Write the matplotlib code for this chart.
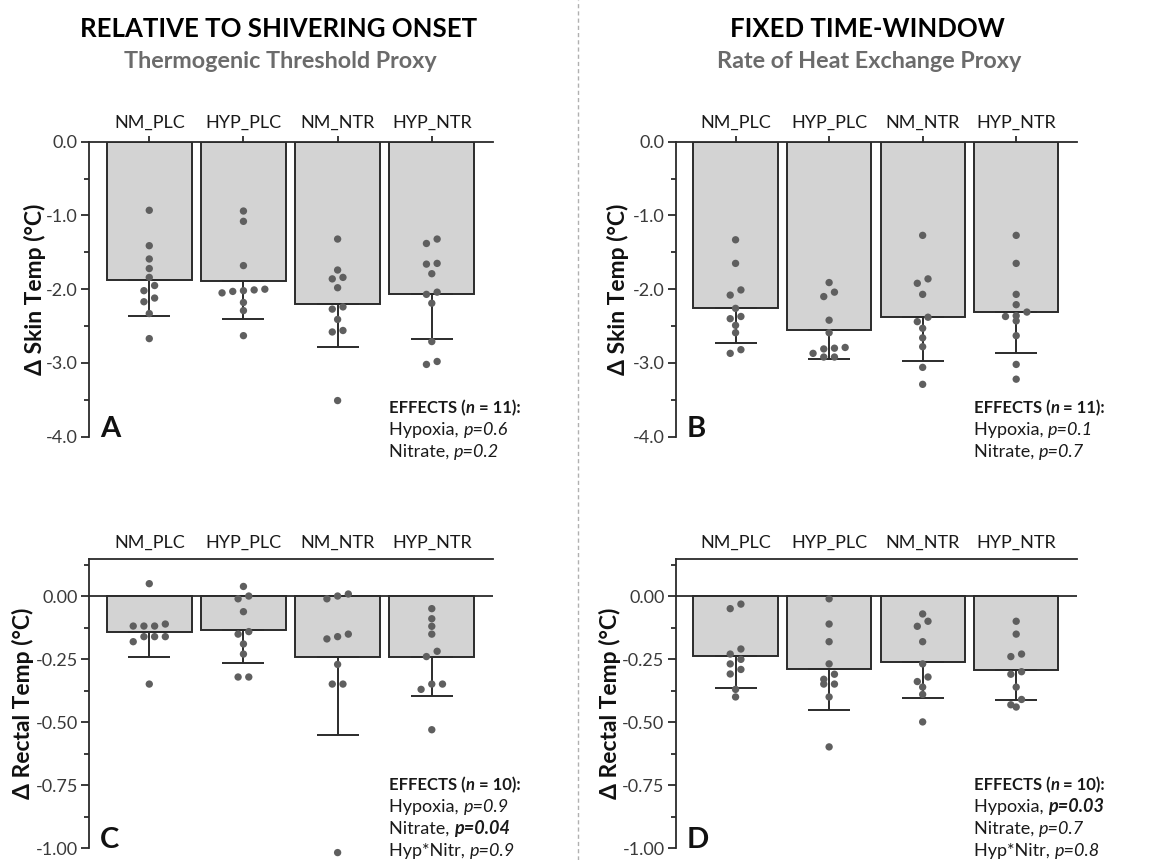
import numpy as np
import matplotlib.pyplot as plt
from matplotlib.ticker import FixedLocator, MultipleLocator, FuncFormatter
from matplotlib.transforms import offset_copy

plt.rcParams['font.family'] = ['Lato', 'DejaVu Sans']

groups = ["NM_PLC", "HYP_PLC", "NM_NTR", "HYP_NTR"]

# panel A: skin temp, relative to shivering onset
skin_onset_mean = [-1.876, -1.89, -2.20, -2.06]
skin_onset_sd = [0.488, 0.51, 0.59, 0.62]
skin_onset_pts = [
    [-0.93, -1.41, -1.59, -1.72, -1.84, -1.95, -2.02, -2.12, -2.17, -2.33, -2.67],
    [-0.94, -1.08, -1.68, -2.01, -2.05, -2.00, -2.03, -2.02, -2.18, -2.29, -2.63],
    [-1.32, -1.74, -1.84, -1.86, -1.98, -2.27, -2.24, -2.41, -2.56, -2.58, -3.51],
    [-1.32, -1.38, -1.65, -1.66, -1.79, -2.07, -2.04, -2.19, -2.71, -3.02, -2.98],
]

# panel B: skin temp, fixed time-window
skin_fixed_mean = [-2.255, -2.55, -2.38, -2.31]
skin_fixed_sd = [0.475, 0.39, 0.59, 0.56]
skin_fixed_pts = [
    [-1.33, -1.65, -2.01, -2.08, -2.26, -2.40, -2.37, -2.49, -2.59, -2.87, -2.82],
    [-1.91, -2.04, -2.10, -2.42, -2.59, -2.81, -2.79, -2.80, -2.87, -2.92, -2.92],
    [-1.27, -1.86, -1.92, -2.07, -2.38, -2.44, -2.53, -2.66, -2.78, -3.06, -3.29],
    [-1.27, -1.65, -2.07, -2.21, -2.31, -2.37, -2.36, -2.43, -2.63, -3.02, -3.22],
]

# panel C: rectal temp, relative to shivering onset
rect_onset_mean = [-0.141, -0.136, -0.243, -0.243]
rect_onset_sd = [0.099, 0.131, 0.307, 0.155]
rect_onset_pts = [
    [0.049, -0.119, -0.119, -0.119, -0.111, -0.161, -0.161, -0.161, -0.181, -0.349],
    [0.038, 0.0, -0.011, -0.062, -0.151, -0.141, -0.190, -0.230, -0.321, -0.321],
    [0.008, -0.011, 0.0, -0.170, -0.151, -0.161, -0.271, -0.349, -0.349, -1.017],
    [-0.050, -0.090, -0.120, -0.151, -0.219, -0.240, -0.349, -0.349, -0.370, -0.530],
]

# panel D: rectal temp, fixed time-window
rect_fixed_mean = [-0.239, -0.289, -0.262, -0.295]
rect_fixed_sd = [0.124, 0.164, 0.144, 0.118]
rect_fixed_pts = [
    [-0.050, -0.032, -0.210, -0.230, -0.251, -0.269, -0.291, -0.309, -0.370, -0.400],
    [-0.011, -0.111, -0.181, -0.269, -0.310, -0.330, -0.349, -0.349, -0.400, -0.598],
    [-0.071, -0.100, -0.120, -0.181, -0.269, -0.321, -0.339, -0.361, -0.390, -0.499],
    [-0.100, -0.151, -0.230, -0.240, -0.300, -0.310, -0.361, -0.410, -0.440, -0.431],
]

effects_A = [("Hypoxia, ", "p=0.6", False), ("Nitrate, ", "p=0.2", False)]
effects_B = [("Hypoxia, ", "p=0.1", False), ("Nitrate, ", "p=0.7", False)]
effects_C = [("Hypoxia, ", "p=0.9", False), ("Nitrate, ", "p=0.04", True),
             ("Hyp*Nitr, ", "p=0.9", False)]
effects_D = [("Hypoxia, ", "p=0.03", True), ("Nitrate, ", "p=0.7", False),
             ("Hyp*Nitr, ", "p=0.8", False)]

BAR_C = "#d3d3d3"
EDGE_C = "#2b2b2b"
DOT_C = "#5f5f5f"
TXT_C = "#3a3a3a"

fig = plt.figure(figsize=(11.51, 8.6), dpi=100)


def swarm_offsets(ax, x, vals, diam_px=6.5, step_px=10.7):
    # group points whose vertical pixel spacing is below one dot diameter,
    # then spread each group symmetrically around the column centre
    to_px = ax.transData
    ypx = np.array([to_px.transform((x, v))[1] for v in vals])
    order = np.argsort(-ypx)
    rows, cur = [], [order[0]]
    for i in order[1:]:
        if abs(ypx[i] - ypx[cur[0]]) < diam_px:
            cur.append(i)
        else:
            rows.append(cur)
            cur = [i]
    rows.append(cur)
    x0 = to_px.transform((x, 0))[0]
    xs = np.zeros(len(vals))
    for row in rows:
        row = sorted(row, key=lambda i: vals[i])
        k = len(row)
        for j, i in enumerate(row):
            off = (j - (k - 1) / 2) * step_px
            xs[i] = to_px.inverted().transform((x0 + off, 0))[0]
    return xs


def rich_line(ax, x, y, parts, dy_pt, size=13):
    tr = offset_copy(ax.transAxes, fig=fig, x=0, y=-dy_pt, units='points')
    prev = None
    for s, weight, style in parts:
        kw = dict(fontsize=size, fontweight=weight, fontstyle=style,
                  color="#1a1a1a", annotation_clip=False)
        if prev is None:
            prev = ax.annotate(s, xy=(x, y), xycoords=tr, va='baseline', ha='left', **kw)
        else:
            prev = ax.annotate(s, xy=(1, 0), xycoords=prev, va='bottom', ha='left', **kw)


def panel(rect, means, sds, pts, ylim, major, minor, fmt, ylabel, ylab_x,
          letter, effects, n, rectal):
    ax = fig.add_axes(rect)
    x = np.arange(len(groups))
    ax.set_xlim(-0.64, 3.65)
    ax.set_ylim(*ylim)

    ax.bar(x, means, width=0.9, color=BAR_C, edgecolor=EDGE_C, linewidth=1.4, zorder=2)
    ax.errorbar(x, means, yerr=[sds, np.zeros(len(sds))], fmt='none',
                ecolor=EDGE_C, elinewidth=1.4, capsize=15, capthick=1.4, zorder=3)

    for xi, vals in zip(x, pts):
        xs = swarm_offsets(ax, xi, vals)
        ax.scatter(xs, vals, s=28, color=DOT_C, edgecolors='none', zorder=4,
                   clip_on=False)

    for side in ("right", "bottom"):
        ax.spines[side].set_visible(False)
    for side in ("left", "top"):
        ax.spines[side].set_linewidth(1.3)
        ax.spines[side].set_color(EDGE_C)

    ax.xaxis.tick_top()
    ax.set_xticks(x)
    ax.set_xticklabels(groups, fontsize=13, color="#1a1a1a")
    if rectal:
        ax.axhline(0, color=EDGE_C, linewidth=1.3, zorder=1)
        ax.tick_params(axis='x', length=0, pad=6)
    else:
        ax.tick_params(axis='x', length=4, width=1.3, color=EDGE_C, pad=4)

    ax.yaxis.set_major_locator(FixedLocator(major))
    ax.yaxis.set_minor_locator(MultipleLocator(minor))
    ax.yaxis.set_major_formatter(FuncFormatter(
        lambda v, p: fmt.format(abs(v)) if abs(v) < 1e-9 else fmt.format(v)))
    ax.tick_params(axis='y', which='major', length=6, width=1.3, color=EDGE_C,
                   labelsize=13, labelcolor=TXT_C, pad=2)
    ax.tick_params(axis='y', which='minor', length=3.5, width=1.3, color=EDGE_C)

    ax.text(ylab_x, 0.5, ylabel, transform=ax.transAxes, rotation=90,
            ha='center', va='center', fontsize=16.5, fontweight='bold', color="#111111")
    ax.text(0.027, 0.0, letter, transform=ax.transAxes, ha='left', va='baseline',
            fontsize=21, fontweight='bold', color="#111111")

    ex, ey = 0.743, (0.080 if not rectal else 0.201)
    rich_line(ax, ex, ey, [("EFFECTS (", 'bold', 'normal'), ("n", 'bold', 'italic'),
                           (" = %d):" % n, 'bold', 'normal')], 0, size=12)
    for k, (name, pval, sig) in enumerate(effects):
        rich_line(ax, ex, ey, [(name, 'normal', 'normal'),
                               (pval, 'bold' if sig else 'normal', 'italic')],
                  15.8 * (k + 1))
    return ax


W, H = 1151.0, 860.0
top_rect = lambda l, r: [l / W, 1 - 436.7 / H, (r - l) / W, (436.7 - 141.7) / H]
bot_rect = lambda l, r: [l / W, 1 - 848.3 / H, (r - l) / W, (848.3 - 558.7) / H]

skin_major = [0.0, -1.0, -2.0, -3.0, -4.0]
rect_major = [0.0, -0.25, -0.5, -0.75, -1.0]

panel(top_rect(89, 493), skin_onset_mean, skin_onset_sd, skin_onset_pts, (-4.0, 0.0),
      skin_major, 0.5, "{:.1f}", "\u0394 Skin Temp (\u00b0C)", -0.134, "A", effects_A, 11, False)
panel(top_rect(675.7, 1077), skin_fixed_mean, skin_fixed_sd, skin_fixed_pts, (-4.0, 0.0),
      skin_major, 0.5, "{:.1f}", "\u0394 Skin Temp (\u00b0C)", -0.144, "B", effects_B, 11, False)
panel(bot_rect(89, 493), rect_onset_mean, rect_onset_sd, rect_onset_pts, (-1.0, 0.148),
      rect_major, 0.125, "{:.2f}", "\u0394 Rectal Temp (\u00b0C)", -0.163, "C", effects_C, 10, True)
panel(bot_rect(675.7, 1077), rect_fixed_mean, rect_fixed_sd, rect_fixed_pts, (-1.0, 0.148),
      rect_major, 0.125, "{:.2f}", "\u0394 Rectal Temp (\u00b0C)", -0.164, "D", effects_D, 10, True)

# column headings
fig.text(279 / W, 1 - 29 / H, "RELATIVE TO SHIVERING ONSET", ha='center', va='center',
         fontsize=18.5, fontweight='bold', color="#000000")
fig.text(280 / W, 1 - 61 / H, "Thermogenic Threshold Proxy", ha='center', va='center',
         fontsize=16.8, fontweight='bold', color="#6b6b6b")
fig.text(867 / W, 1 - 29 / H, "FIXED TIME-WINDOW", ha='center', va='center',
         fontsize=18.5, fontweight='bold', color="#000000")
fig.text(869 / W, 1 - 61 / H, "Rate of Heat Exchange Proxy", ha='center', va='center',
         fontsize=16.8, fontweight='bold', color="#6b6b6b")

# divider between the two columns
fig.add_artist(plt.Line2D([577.7 / W, 577.7 / W], [0, 1], transform=fig.transFigure,
                          color="#b0b0b0", linewidth=1.0, linestyle=(0, (3, 2.2))))

fig.savefig("out.png", dpi=100)
